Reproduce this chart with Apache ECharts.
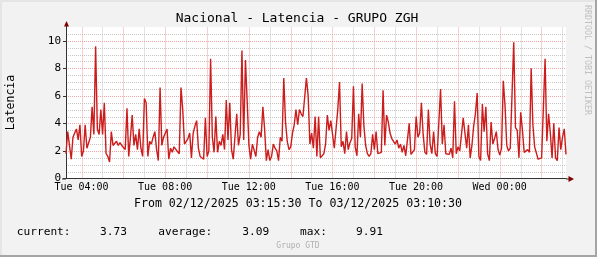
<!DOCTYPE html>
<html><head><meta charset="utf-8">
<script src="https://cdn.jsdelivr.net/npm/echarts@6/dist/echarts.min.js"></script>
<style>html,body{margin:0;padding:0;background:#f2f2f2}#c{width:597px;height:257px}</style>
</head><body><div id="c"></div>
<script>
// ---- data ----
const startMinute = 195.5;      // 03:15:30 (minutes after Tue 00:00)
const stepMinutes = 5;
const latency = [
1.8,3.4,2.4,1.4,3.0,3.3,3.6,2.8,3.9,1.6,
2.0,3.9,2.2,2.2,3.0,5.2,3.2,9.6,3.6,3.2,
5.0,3.2,5.5,1.8,1.6,1.2,3.4,2.4,2.3,2.7,
2.4,2.6,2.4,2.3,2.1,5.1,1.6,3.0,4.6,2.4,
3.2,2.1,3.6,2.2,1.6,5.8,5.5,1.6,2.7,2.5,
3.0,3.4,2.1,1.3,6.6,2.4,3.0,2.9,3.6,1.4,
2.2,1.9,2.3,2.2,1.95,1.8,6.6,5.0,2.5,2.4,
2.9,3.3,1.5,3.3,3.8,4.2,2.2,1.6,1.7,1.4,
4.4,1.6,2.0,8.7,3.0,1.9,4.5,1.9,2.7,2.4,
3.2,2.1,5.7,2.8,5.5,2.1,1.4,1.5,4.7,2.4,
3.2,9.3,2.8,8.6,5.6,2.4,1.4,2.5,2.6,1.6,
3.0,3.4,3.0,5.2,3.6,1.3,2.1,1.3,1.6,2.5,
2.2,2.0,1.3,3.0,2.7,7.3,4.1,2.7,2.1,2.3,
3.3,3.9,5.0,3.9,5.0,4.7,4.5,5.9,7.3,6.0,
2.5,3.3,2.2,4.5,1.6,4.5,1.5,1.5,1.8,2.5,
4.6,3.5,4.2,4.2,2.2,2.2,5.0,7.0,2.3,2.7,
1.8,3.4,2.1,2.6,2.9,6.7,2.3,1.65,4.7,3.0,
6.9,3.8,2.4,1.8,1.6,1.8,3.2,2.1,3.4,1.8,
1.8,1.9,6.4,2.4,4.6,4.1,3.3,2.9,2.7,2.5,
2.8,2.2,2.5,1.9,2.4,1.65,1.65,4.0,1.75,1.75,
2.1,4.5,3.0,3.3,5.5,3.2,1.9,1.75,5.0,2.5,
1.8,3.4,1.8,1.6,1.5,6.5,2.5,3.9,1.8,1.8,
1.75,2.2,1.5,5.6,1.8,2.3,2.0,2.0,4.4,3.3,
2.2,3.9,1.5,2.4,3.8,4.7,6.2,1.6,1.3,5.4,
3.4,5.2,1.8,1.3,4.1,2.5,2.9,3.4,2.1,1.7,
2.2,7.1,5.3,2.4,2.0,2.2,2.1,9.9,3.7,3.5,
1.5,4.8,3.5,1.9,1.8,2.1,1.9,8.0,3.9,2.3,
2.2,1.4,1.4,1.5,1.5,8.7,2.7,4.7,3.3,1.5,
4.0,1.5,1.3,3.7,2.1,3.0,3.6,1.75
];
const xLabelMinutes = [240, 480, 720, 960, 1200, 1440];
const xLabelTexts = ['Tue 04:00','Tue 08:00','Tue 12:00','Tue 16:00','Tue 20:00','Wed 00:00'];
const majorHourMinutes = [240,360,480,600,720,840,960,1080,1200,1320,1440,1560];
const minorHourMinutes = [300,420,540,660,780,900,1020,1140,1260,1380,1500,1620];
const majorLevels = [2,4,6,8,10];
const minorLevels = [0.5,1,1.5,2.5,3,3.5,4.5,5,5.5,6.5,7,7.5,8.5,9,9.5,10.5];
const yLabelValues = [0,2,4,6,8,10];
const titleText = 'Nacional - Latencia - GRUPO ZGH';
const axisName = 'Latencia';
const periodText = 'From 02/12/2025 03:15:30 To 03/12/2025 03:10:30';
const statNames = ['current:', 'average:', 'max:'];
const statValues = ['3.73', '3.09', '9.91'];

// ---- chart ----
const endMinute = startMinute + (latency.length - 1) * stepMinutes;
const yMax = 11;
const points = latency.map((v, i) => [startMinute + i * stepMinutes, v]);
const MONO = '"DejaVu Sans Mono", monospace';
const GRID_C = '#c6c6c6';
const MGRID_C = '#f0a4a4';

// grid rules: [orientation (0 vertical / 1 horizontal), position, major?]
const rules = [];
minorHourMinutes.forEach(m => rules.push([0, m, 0]));
minorLevels.forEach(v => rules.push([1, v, 0]));
majorHourMinutes.forEach(m => rules.push([0, m, 1]));
majorLevels.forEach(v => rules.push([1, v, 1]));

const chart = echarts.init(document.getElementById('c'), null, {renderer: 'canvas'});
const G = {left: 66, top: 27, right: 31, bottom: 78.5};
const plotW = 597 - G.left - G.right;
const plotB = 257 - G.bottom;

chart.setOption({
  animation: false,
  backgroundColor: '#f2f2f2',
  grid: Object.assign({show: true, backgroundColor: '#ffffff', borderWidth: 0}, G),
  xAxis: {
    type: 'value', min: startMinute, max: endMinute, z: 5,
    axisLine: {show: true, lineStyle: {color: '#333333', width: 1}},
    axisTick: {show: false},
    splitLine: {show: false},
    axisLabel: {
      customValues: xLabelMinutes,
      formatter: v => { const k = xLabelMinutes.indexOf(Math.round(v)); return k >= 0 ? xLabelTexts[k] : ''; },
      fontFamily: MONO, fontSize: 10, color: '#000', margin: 4
    }
  },
  yAxis: {
    type: 'value', min: 0, max: yMax, interval: 2, z: 5,
    axisLine: {show: true, lineStyle: {color: '#333333', width: 1}},
    axisTick: {show: true, length: 3, lineStyle: {color: '#333333'}},
    splitLine: {show: false},
    axisLabel: {
      showMaxLabel: false,
      formatter: v => (yLabelValues.indexOf(v) >= 0 ? String(v) : ''),
      fontFamily: MONO, fontSize: 11, color: '#000', margin: 5
    }
  },
  series: [{
    type: 'custom', z: 1, silent: true, data: rules,
    renderItem: (params, api) => {
      const kind = api.value(0), pos = api.value(1), major = api.value(2);
      let x1, y1, x2, y2;
      if (kind === 0) {
        const a = api.coord([pos, 0]), b = api.coord([pos, yMax]);
        x1 = x2 = Math.round(a[0]) + 0.5; y1 = a[1]; y2 = b[1];
      } else {
        const a = api.coord([startMinute, pos]), b = api.coord([endMinute, pos]);
        y1 = y2 = Math.round(a[1]) + 0.5; x1 = a[0]; x2 = b[0];
      }
      return {type: 'line', shape: {x1: x1, y1: y1, x2: x2, y2: y2},
              style: {stroke: major ? MGRID_C : GRID_C, lineWidth: 1, lineDash: [1, 1], fill: null}};
    }
  }, {
    type: 'line', data: points, symbol: 'none', z: 10,
    lineStyle: {color: '#cc1c1c', width: 1.4}
  }],
  graphic: [
    {type: 'rect', z: -10, silent: true, shape: {x: 0, y: 0, width: 597, height: 2}, style: {fill: '#e5e5e5'}},
    {type: 'rect', z: -10, silent: true, shape: {x: 0, y: 0, width: 2, height: 257}, style: {fill: '#e5e5e5'}},
    {type: 'rect', z: -9, silent: true, shape: {x: 0, y: 255, width: 597, height: 2}, style: {fill: '#a5a5a5'}},
    {type: 'rect', z: -9, silent: true, shape: {x: 595, y: 0, width: 2, height: 257}, style: {fill: '#a5a5a5'}},
    // axis extensions and arrows
    {type: 'line', z: 50, silent: true, shape: {x1: G.left + 0.5, y1: G.top, x2: G.left + 0.5, y2: 24}, style: {stroke: '#333333', lineWidth: 1}},
    {type: 'polygon', z: 51, silent: true, shape: {points: [[G.left - 2, 26.5], [G.left + 3, 26.5], [G.left + 0.5, 21]]}, style: {fill: '#800000'}},
    {type: 'line', z: 50, silent: true, shape: {x1: G.left + plotW, y1: plotB + 0.5, x2: 570, y2: plotB + 0.5}, style: {stroke: '#333333', lineWidth: 1}},
    {type: 'line', z: 50, silent: true, shape: {x1: 62, y1: plotB + 0.5, x2: G.left, y2: plotB + 0.5}, style: {stroke: '#333333', lineWidth: 1}},
    {type: 'polygon', z: 51, silent: true, shape: {points: [[568.5, plotB - 2.5], [568.5, plotB + 3.5], [574, plotB + 0.5]]}, style: {fill: '#800000'}},
    // texts
    {type: 'text', silent: true, x: 297, y: 19, style: {text: titleText, font: '13px ' + MONO, fill: '#000', align: 'center', verticalAlign: 'middle'}},
    {type: 'text', silent: true, x: 11, y: 102.5, rotation: Math.PI / 2, style: {text: axisName, font: '11.5px ' + MONO, fill: '#000', align: 'center', verticalAlign: 'middle'}},
    {type: 'text', silent: true, x: 298, y: 204, style: {text: periodText, font: '11.6px ' + MONO, fill: '#000', align: 'center', verticalAlign: 'middle'}},
    {type: 'text', silent: true, x: 16.7, y: 232, style: {text: statNames[0], font: '11.2px ' + MONO, fill: '#000', verticalAlign: 'middle'}},
    {type: 'text', silent: true, x: 100, y: 232, style: {text: statValues[0], font: '11.2px ' + MONO, fill: '#000', verticalAlign: 'middle'}},
    {type: 'text', silent: true, x: 158.3, y: 232, style: {text: statNames[1], font: '11.2px ' + MONO, fill: '#000', verticalAlign: 'middle'}},
    {type: 'text', silent: true, x: 242.3, y: 232, style: {text: statValues[1], font: '11.2px ' + MONO, fill: '#000', verticalAlign: 'middle'}},
    {type: 'text', silent: true, x: 300, y: 232, style: {text: statNames[2], font: '11.2px ' + MONO, fill: '#000', verticalAlign: 'middle'}},
    {type: 'text', silent: true, x: 356, y: 232, style: {text: statValues[2], font: '11.2px ' + MONO, fill: '#000', verticalAlign: 'middle'}},
    {type: 'text', silent: true, x: 298, y: 246, style: {text: 'Grupo GTD', font: '8px ' + MONO, fill: '#b0b0b0', align: 'center', verticalAlign: 'middle'}},
    {type: 'text', silent: true, x: 587, y: 60, rotation: -Math.PI / 2, style: {text: 'RRDTOOL / TOBI OETIKER', font: '8.3px ' + MONO, fill: '#c0c0c0', align: 'center', verticalAlign: 'middle'}}
  ]
});
</script></body></html>
